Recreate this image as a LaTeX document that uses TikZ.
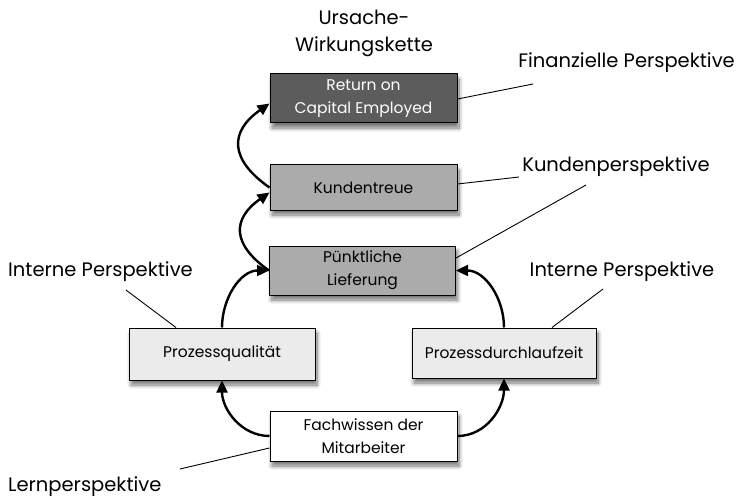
\documentclass[tikz,border=0pt]{standalone}
\usepackage{fontspec}
\setmainfont{Poppins}
\usetikzlibrary{shadows.blur,arrows.meta}
\tikzset{
  box/.style={draw=black, line width=1pt, inner sep=0pt, align=center, font=\fontsize{15.5}{23}\selectfont,
    blur shadow={shadow xshift=2pt, shadow yshift=-5pt, shadow blur radius=4pt, shadow blur steps=10, shadow opacity=55}},
  lbl/.style={font=\fontsize{19.5}{27}\selectfont, inner sep=0pt, align=center},
  flow/.style={line width=2.4pt, -{Triangle[length=12pt,width=11pt]}},
  lead/.style={line width=0.9pt}
}
\begin{document}
\begin{tikzpicture}[x=1pt,y=-1pt]
\useasboundingbox (0,0) rectangle (739,500);
\node[box, fill=black!64, text=white, minimum width=187pt, minimum height=49pt] (roce) at (363.5,98.5) {Return on\\Capital Employed};
\node[box, fill=black!33, minimum width=187pt, minimum height=45pt] (kt) at (363.5,187.5) {Kundentreue};
\node[box, fill=black!33, minimum width=186pt, minimum height=49pt] (pl) at (362.5,270.5) {Pünktliche\\Lieferung};
\node[box, fill=black!8, minimum width=186pt, minimum height=52pt] (pq) at (222,354) {Prozessqualität};
\node[box, fill=black!8, minimum width=184pt, minimum height=50pt] (pd) at (504,353) {Prozessdurchlaufzeit};
\node[box, fill=white, minimum width=187pt, minimum height=50pt] (fw) at (363.5,436) {Fachwissen der\\Mitarbeiter};

\node[lbl] (uw) at (364,33) {Ursache-\\Wirkungskette};
\node[lbl, anchor=east] (fin) at (735,63) {Finanzielle Perspektive};
\node[lbl] (kun) at (616,167) {Kundenperspektive};
\node[lbl, anchor=west] (intl) at (8,272) {Interne Perspektive};
\node[lbl] (intr) at (622,272) {Interne Perspektive};
\node[lbl, anchor=west] (lern) at (8,487) {Lernperspektive};

\coordinate (cfin) at (533,84);
\coordinate (ckun1) at (519,177);
\coordinate (ckun2) at (586,185);
\coordinate (cintl) at (126,290);
\coordinate (cintr) at (603,289);
\coordinate (clern) at (180,469);

\draw[lead] (roce.east |- 0,99) -- (cfin);
\draw[lead] (kt.east |- 0,184) -- (ckun1);
\draw[lead] (pl.east |- 0,258) -- (ckun2);
\draw[lead] (pq.north -| 176,0) -- (cintl);
\draw[lead] (pd.north -| 552,0) -- (cintr);
\draw[lead] (fw.west |- 0,448) -- (clern);

\draw[flow] (kt.west) to[out=145,in=215,looseness=1.5] ([yshift=-5pt]roce.west);
\draw[flow] (pl.west) to[out=145,in=215,looseness=1.5] ([yshift=-5pt]kt.west);
\draw[flow] (pq.north) to[out=90,in=180] (pl.west);
\draw[flow] (pd.north) to[out=90,in=0] (pl.east);
\draw[flow] (fw.west) to[out=180,in=-90] (pq.south);
\draw[flow] (fw.east) to[out=0,in=-90] (pd.south);
\end{tikzpicture}
\end{document}
